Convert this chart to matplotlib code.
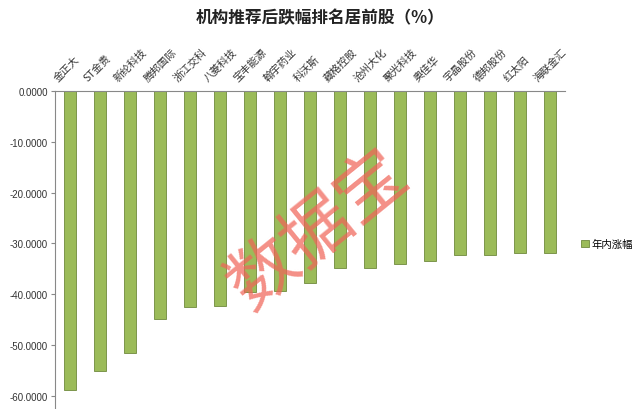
import matplotlib
matplotlib.use("Agg")
import matplotlib.pyplot as plt
import numpy as np

plt.rcParams['font.family'] = ['Noto Sans CJK SC', 'DejaVu Sans']

stocks = ["金正大", "ST金贵", "新纶科技", "腾邦国际", "浙江交科", "八菱科技", "宝丰能源",
          "翰宇药业", "科沃斯", "藏格控股", "沧州大化", "聚光科技", "奥佳华", "宇晶股份",
          "德邦股份", "红太阳", "海联金汇"]
change = [-58.9, -55.0, -51.6, -44.8, -42.5, -42.2, -39.5, -39.4, -37.8, -34.9, -34.8,
          -34.1, -33.4, -32.3, -32.2, -31.8, -31.8]
series_name = "年内涨幅"
title = "机构推荐后跌幅排名居前股（%）"
yticks = [0, -10, -20, -30, -40, -50, -60]

fig = plt.figure(figsize=(6.4, 4.1), dpi=100)
ax = fig.add_axes([55/640, 0.0, 510/640, 318/410])
x = np.arange(len(stocks))
bars = ax.bar(x, change, width=0.42, color="#9BBB59", edgecolor="#6f8a3c",
              linewidth=0.6, label=series_name)
ax.set_xlim(-0.5, len(stocks) - 0.5)
ax.set_ylim(-62.56, 0)
ax.set_yticks(yticks)
ax.set_yticklabels([f"{v:.4f}" for v in yticks], family="Liberation Sans",
                   fontsize=7, color="#333333")
ax.tick_params(axis='y', length=3, color="#888888", pad=2)
ax.set_xticks([])
for s in ['right', 'bottom']:
    ax.spines[s].set_visible(False)
ax.spines['left'].set_color("#888888")
ax.spines['top'].set_color("#888888")
ax.spines['left'].set_linewidth(0.8)
ax.spines['top'].set_linewidth(0.8)

for xi, name in zip(x, stocks):
    ax.annotate(name, xy=(xi, 0), xycoords='data', xytext=(-8, 6),
                textcoords='offset points', rotation=45, rotation_mode='anchor',
                ha='left', va='bottom', fontsize=7.5, color="#333333",
                annotation_clip=False)

fig.text(320/640, 1 - 18/410, title, ha='center', va='center', fontsize=12,
         fontweight='bold', color="#222222")

fig.legend(handles=[bars], labels=[series_name], loc='center left',
           bbox_to_anchor=(572/640, 1 - 245/410), frameon=False, fontsize=7.5,
           handlelength=0.7, handleheight=0.7, handletextpad=0.3)

fig.text(318/640, 1 - 230/410, "数据宝", ha='center', va='center', fontsize=50,
         rotation=39, color="#f06458", alpha=0.72)

fig.savefig("out.png", dpi=100)
